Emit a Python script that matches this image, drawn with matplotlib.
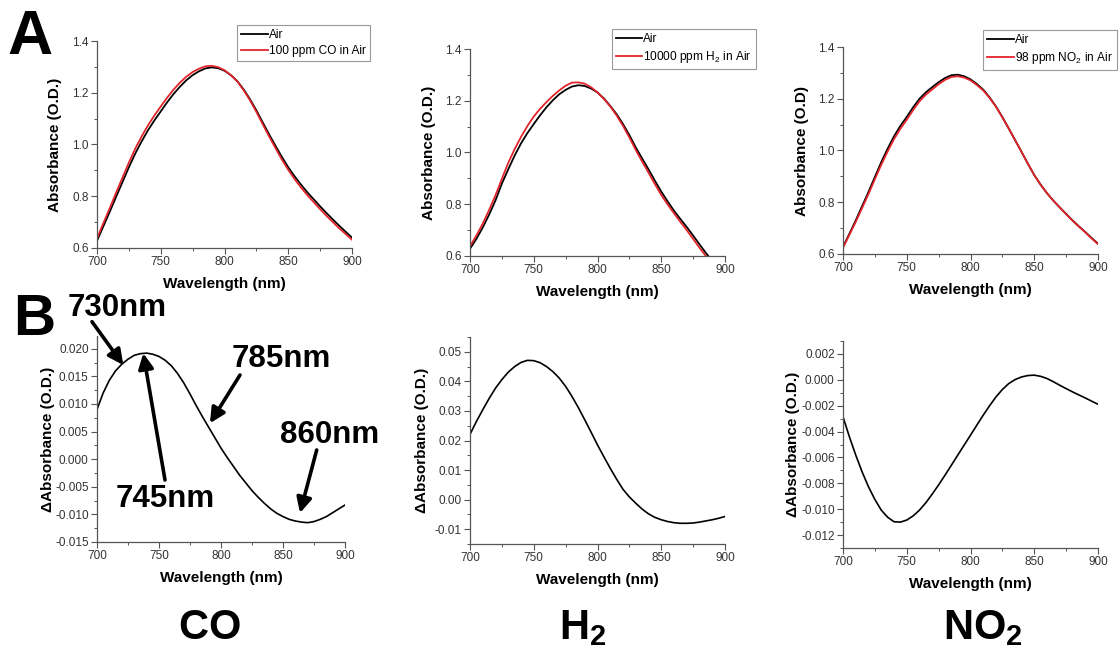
import matplotlib
matplotlib.use('Agg')
import matplotlib.pyplot as plt
from matplotlib.ticker import MultipleLocator, FormatStrFormatter

plt.rcParams['font.family'] = ['Liberation Sans', 'DejaVu Sans']
plt.rcParams['mathtext.fontset'] = 'custom'
plt.rcParams['mathtext.rm'] = 'Liberation Sans'
plt.rcParams['mathtext.bf'] = 'Liberation Sans:bold'
plt.rcParams['mathtext.it'] = 'Liberation Sans:italic'

# ---------------- data ----------------
wavelength = [700, 705, 710, 715, 720, 725, 730, 735, 740, 745, 750, 755, 760, 765, 770, 775,
              780, 785, 790, 795, 800, 805, 810, 815, 820, 825, 830, 835, 840, 845, 850, 855,
              860, 865, 870, 875, 880, 885, 890, 895, 900]

co_air = [0.628, 0.684, 0.740, 0.798, 0.855, 0.912, 0.965, 1.012, 1.055, 1.093, 1.128, 1.163,
          1.195, 1.223, 1.248, 1.268, 1.283, 1.294, 1.298, 1.295, 1.285, 1.268, 1.245, 1.213,
          1.175, 1.132, 1.085, 1.039, 0.995, 0.952, 0.912, 0.877, 0.845, 0.815, 0.788, 0.761,
          0.735, 0.710, 0.686, 0.663, 0.640]
co_gas = [0.637, 0.696, 0.754, 0.814, 0.872, 0.930, 0.984, 1.031, 1.074, 1.112, 1.147, 1.181,
          1.212, 1.239, 1.262, 1.280, 1.293, 1.302, 1.304, 1.299, 1.287, 1.268, 1.244, 1.210,
          1.171, 1.126, 1.078, 1.031, 0.986, 0.942, 0.902, 0.866, 0.834, 0.804, 0.777, 0.750,
          0.724, 0.700, 0.676, 0.654, 0.632]

h2_air = [0.628, 0.666, 0.710, 0.760, 0.815, 0.880, 0.935, 0.988, 1.035, 1.075, 1.110, 1.144,
          1.175, 1.202, 1.225, 1.242, 1.255, 1.260, 1.257, 1.247, 1.232, 1.209, 1.180, 1.148,
          1.110, 1.067, 1.020, 0.977, 0.935, 0.891, 0.849, 0.811, 0.775, 0.743, 0.712, 0.679,
          0.645, 0.612, 0.580, 0.547, 0.515]
h2_gas = [0.638, 0.679, 0.725, 0.778, 0.835, 0.898, 0.960, 1.013, 1.060, 1.102, 1.139, 1.169,
          1.195, 1.219, 1.240, 1.258, 1.270, 1.271, 1.266, 1.252, 1.232, 1.207, 1.178, 1.143,
          1.103, 1.058, 1.010, 0.965, 0.922, 0.878, 0.836, 0.799, 0.765, 0.732, 0.700, 0.666,
          0.632, 0.600, 0.568, 0.536, 0.505]

no2_air = [0.627, 0.678, 0.730, 0.785, 0.840, 0.898, 0.955, 1.007, 1.055, 1.095, 1.130, 1.167,
           1.200, 1.225, 1.245, 1.264, 1.280, 1.291, 1.293, 1.287, 1.275, 1.257, 1.235, 1.205,
           1.170, 1.129, 1.085, 1.040, 0.995, 0.949, 0.905, 0.868, 0.835, 0.806, 0.780, 0.755,
           0.730, 0.707, 0.685, 0.662, 0.640]
no2_gas = [0.624, 0.674, 0.724, 0.778, 0.832, 0.889, 0.945, 0.996, 1.044, 1.084, 1.119, 1.156,
           1.190, 1.216, 1.236, 1.256, 1.273, 1.284, 1.287, 1.282, 1.271, 1.253, 1.232, 1.203,
           1.169, 1.128, 1.085, 1.040, 0.995, 0.949, 0.905, 0.868, 0.835, 0.806, 0.780, 0.754,
           0.729, 0.706, 0.684, 0.660, 0.638]

co_delta = [0.0090, 0.0120, 0.0143, 0.0160, 0.0172, 0.0181, 0.0188, 0.0191, 0.0192, 0.0190,
            0.0186, 0.0179, 0.0169, 0.0155, 0.0138, 0.0118, 0.0097, 0.0077, 0.0058, 0.0039,
            0.0020, 0.0003, -0.0013, -0.0029, -0.0043, -0.0057, -0.0069, -0.0080, -0.0090,
            -0.0098, -0.0104, -0.0109, -0.0112, -0.0114, -0.0115, -0.0113, -0.0109, -0.0104,
            -0.0097, -0.0090, -0.0083]
h2_delta = [0.0221, 0.0264, 0.0304, 0.0342, 0.0377, 0.0406, 0.0431, 0.0450, 0.0464, 0.0471,
            0.0470, 0.0463, 0.0450, 0.0433, 0.0411, 0.0383, 0.0349, 0.0311, 0.0270, 0.0228,
            0.0185, 0.0145, 0.0106, 0.0069, 0.0035, 0.0009, -0.0012, -0.0032, -0.0048,
            -0.0060, -0.0068, -0.0074, -0.0078, -0.0080, -0.0080, -0.0079, -0.0076, -0.0072,
            -0.0068, -0.0063, -0.0057]
no2_delta = [-0.00286, -0.00440, -0.00582, -0.00712, -0.00827, -0.00925, -0.01007, -0.01062,
             -0.01097, -0.01100, -0.01084, -0.01052, -0.01007, -0.00950, -0.00883, -0.00812,
             -0.00737, -0.00660, -0.00582, -0.00505, -0.00428, -0.00350, -0.00273, -0.00200,
             -0.00132, -0.00075, -0.00029, 0.00002, 0.00022, 0.00033, 0.00036, 0.00027,
             0.00010, -0.00015, -0.00042, -0.00068, -0.00093, -0.00117, -0.00140, -0.00165,
             -0.00189]

gas_labels = ['100 ppm CO in Air', '10000 ppm H$_2$ in Air', '98 ppm NO$_2$ in Air']
gas_names = [r'$\mathbf{CO}$', r'$\mathbf{H_2}$', r'$\mathbf{NO_2}$']
annot_texts = ['730nm', '745nm', '785nm', '860nm']

# ---------------- layout ----------------
W, H = 1120, 653
fig = plt.figure(figsize=(W / 100, H / 100), dpi=100)
fig.patch.set_facecolor('white')

RED = '#e3242b'
AXC = '#555555'
TXC = '#333333'


def add_ax(x0, y0, x1, y1):
    return fig.add_axes([x0 / W, 1 - y1 / H, (x1 - x0) / W, (y1 - y0) / H])


def style(ax, box, ylab_right, ymaj, ymin, fmt, ylabel):
    for s in ['top', 'right']:
        ax.spines[s].set_visible(False)
    for s in ['left', 'bottom']:
        ax.spines[s].set_color(AXC)
        ax.spines[s].set_linewidth(0.9)
    ax.xaxis.set_major_locator(MultipleLocator(50))
    ax.xaxis.set_minor_locator(MultipleLocator(25))
    ax.yaxis.set_major_locator(MultipleLocator(ymaj))
    ax.yaxis.set_minor_locator(MultipleLocator(ymin))
    ax.yaxis.set_major_formatter(FormatStrFormatter(fmt))
    ax.tick_params(which='major', direction='out', length=4, width=0.8, colors=AXC,
                   labelcolor=TXC, labelsize=8.5, pad=2)
    ax.tick_params(which='minor', direction='out', length=2, width=0.7, colors=AXC)
    ax.set_xlabel('Wavelength (nm)', fontsize=11, fontweight='bold', labelpad=6.5)
    ax.set_ylabel(ylabel, fontsize=11, fontweight='bold')
    x0, y0, x1, y1 = box
    ax.yaxis.set_label_coords((ylab_right - x0) / (x1 - x0), 0.5)


# Row A
boxes_a = [(97, 41, 352, 248), (470, 49, 725, 256), (843, 47, 1098, 254)]
air_series = [co_air, h2_air, no2_air]
gas_series = [co_gas, h2_gas, no2_gas]
ylabels_a = ['Absorbance (O.D.)', 'Absorbance (O.D.)', 'Absorbance (O.D)']
ylab_right_a = [62, 436, 809]
legend_anchor = [(370, 25), (756, 29), (1117, 30)]

for i in range(3):
    ax = add_ax(*boxes_a[i])
    ax.plot(wavelength, air_series[i], color='black', lw=1.3, label='Air')
    ax.plot(wavelength, gas_series[i], color=RED, lw=1.3, label=gas_labels[i])
    ax.set_xlim(700, 900)
    ax.set_ylim(0.6, 1.4)
    style(ax, boxes_a[i], ylab_right_a[i], 0.2, 0.1, '%.1f', ylabels_a[i])
    lx, ly = legend_anchor[i]
    leg = ax.legend(loc='upper right', bbox_to_anchor=(lx / W, 1 - ly / H),
                    bbox_transform=fig.transFigure, fontsize=8.6, frameon=True,
                    fancybox=False, edgecolor='#9a9a9a', framealpha=1,
                    handlelength=2.2, handletextpad=0.1, borderpad=0.35,
                    labelspacing=0.3, borderaxespad=0)
    leg.get_frame().set_linewidth(0.8)

# Row B
boxes_b = [(97, 336, 345, 542), (470, 337, 725, 544), (843, 341, 1098, 548)]
delta_series = [co_delta, h2_delta, no2_delta]
ylims_b = [(-0.015, 0.0223), (-0.015, 0.055), (-0.013, 0.003)]
yticks_b = [(0.005, 0.0025, '%.3f'), (0.01, 0.005, '%.2f'), (0.002, 0.001, '%.3f')]
ylab_right_b = [55, 429, 800]
axes_b = []
for i in range(3):
    ax = add_ax(*boxes_b[i])
    ax.plot(wavelength, delta_series[i], color='black', lw=1.2)
    ax.set_xlim(700, 900)
    ax.set_ylim(*ylims_b[i])
    maj, mnr, fmt = yticks_b[i]
    style(ax, boxes_b[i], ylab_right_b[i], maj, mnr, fmt, '\u0394Absorbance (O.D.)')
    axes_b.append(ax)

# annotations on CO difference panel
axb = axes_b[0]
text_pos = [(117.5, 308.5), (165, 499), (281.5, 359), (330, 435)]
for t, (x, y) in zip(annot_texts, text_pos):
    fig.text(x / W, 1 - y / H, t, fontsize=22.5, fontweight='bold',
             ha='center', va='center', color='black')

arrow_tips = [(721.2, 0.01705), (737.3, 0.01917), (791.1, 0.00651), (863.7, -0.00975)]
arrow_starts = [(92, 321.7), (165, 480), (240, 375), (316.7, 450)]
for (tx, ty), (sx, sy) in zip(arrow_tips, arrow_starts):
    axb.annotate('', xy=(tx, ty), xycoords='data',
                 xytext=(sx, H - sy), textcoords='figure pixels',
                 arrowprops=dict(arrowstyle='-|>,head_length=0.9,head_width=0.45',
                                 color='black', lw=2.6, shrinkA=0, shrinkB=0),
                 annotation_clip=False)

# panel letters
fig.text(30 / W, 1 - 37.5 / H, 'A', fontsize=45, fontweight='bold', ha='center', va='center')
fig.text(34 / W, 1 - 320 / H, 'B', fontsize=42, fontweight='bold', ha='center', va='center')

# gas names
for name, x in zip(gas_names, [209, 583, 983]):
    fig.text(x / W, 1 - 628 / H, name, fontsize=30, ha='center', va='center')

fig.savefig('out.png', dpi=100, facecolor='white')
